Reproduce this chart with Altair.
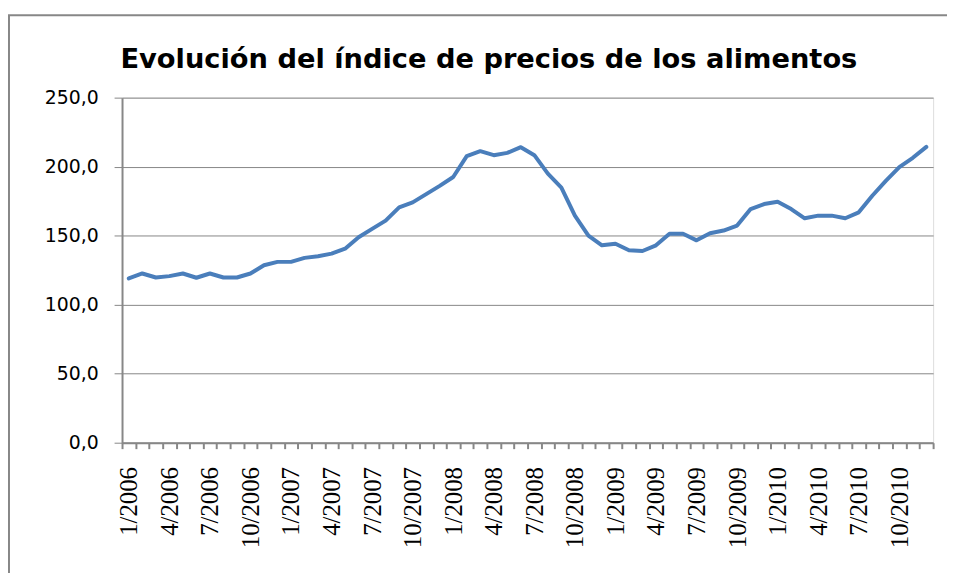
import altair as alt
import pandas as pd

months = [f"{m}/{y}" for y in range(2006, 2011) for m in range(1, 13)]
values = [
    119.0, 122.6, 119.7, 120.7, 122.6, 119.5, 122.6, 119.7, 119.7, 122.6, 128.6, 131.0,
    131.0, 133.9, 135.1, 137.0, 140.6, 148.9, 154.9, 160.9, 170.5, 174.1, 180.1, 186.1,
    192.5, 207.6, 211.2, 208.3, 210.0, 214.1, 208.3, 194.9, 184.8, 164.5, 150.1, 143.0,
    144.2, 139.4, 138.9, 143.0, 151.4, 151.4, 146.6, 151.8, 153.7, 157.3, 169.3, 172.9,
    174.6, 169.3, 162.6, 164.5, 164.5, 162.6, 166.9, 178.9, 189.7, 199.7, 206.4, 214.3,
]
y_ticks = [0, 50, 100, 150, 200, 250]
title_text = "Evolución del índice de precios de los alimentos"

df = pd.DataFrame({"mes": months, "indice": values})

GRAY = "#878787"

x_axis = alt.Axis(
    title=None,
    labelAngle=-90,
    labelAlign="right",
    labelBaseline="middle",
    labelFont="Liberation Serif",
    labelFontSize=25,
    labelFontWeight="normal",
    labelColor="#000000",
    labelPadding=18,
    labelOverlap=False,
    labelLimit=300,
    labelExpr="indexof(['1','4','7','10'], split(datum.value, '/')[0]) >= 0 ? datum.value : ''",
    tickBand="extent",
    tickSize=6,
    tickColor=GRAY,
    tickWidth=2,
    domainColor=GRAY,
    domainWidth=2,
    grid=False,
)

line = alt.Chart(df).mark_line(color="#4a7ebb", strokeWidth=4, strokeJoin="round", strokeCap="round").encode(
    x=alt.X(
        "mes:O",
        sort=months,
        scale=alt.Scale(type="band", paddingInner=0, paddingOuter=0),
        axis=x_axis,
    ),
    y=alt.Y(
        "indice:Q",
        scale=alt.Scale(domain=[0, 250], nice=False, zero=True),
        axis=alt.Axis(
            title=None,
            values=y_ticks,
            labelExpr="replace(format(datum.value, '.1f'), '.', ',')",
            labelFont="DejaVu Sans",
            labelFontSize=19,
            labelColor="#000000",
            labelPadding=16,
            tickSize=8,
            tickColor=GRAY,
            tickWidth=1,
            domainColor=GRAY,
            domainWidth=2,
            gridColor=GRAY,
            gridWidth=1,
            gridOpacity=1,
        ),
    ),
)

one = alt.Data(values=[{"t": title_text}])
left_border = alt.Chart(one).mark_rule(color=GRAY, strokeWidth=2).encode(
    x=alt.value(-114), y=alt.value(-83), y2=alt.value(600)
)
top_border = alt.Chart(one).mark_rule(color=GRAY, strokeWidth=2).encode(
    x=alt.value(-115), x2=alt.value(900), y=alt.value(-83)
)
title = alt.Chart(one).mark_text(
    font="DejaVu Sans", fontSize=27.5, fontWeight="bold", color="#000000",
    align="center", baseline="alphabetic",
).encode(text="t:N", x=alt.value(370), y=alt.value(-30))

chart = (
    alt.layer(left_border, top_border, title, line)
    .properties(
        width=818,
        height=348,
        autosize=alt.AutoSizeParams(type="none"),
        padding={"left": 115, "top": 88, "right": 14, "bottom": 129},
    )
    .configure_view(stroke=None)
    .configure(background="#ffffff")
)

chart.save("out.html", embed_options={"renderer": "svg", "actions": False})
